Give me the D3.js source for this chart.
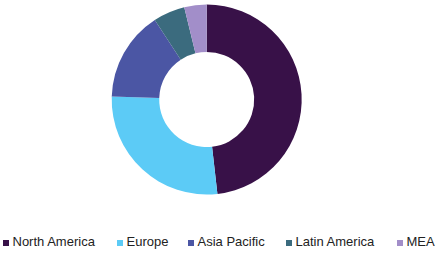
<!DOCTYPE html>
<html>
<head>
<meta charset="utf-8">
<script src="https://cdn.jsdelivr.net/npm/d3@7"></script>
<style>
  body { margin: 0; background: #fff; }
  svg { display: block; font-family: "Liberation Sans", Arial, sans-serif; }
</style>
</head>
<body>
<svg width="441" height="253"></svg>
<script>
const width = 441;
const height = 253;

// regional share (%)
const regions = ["North America", "Europe", "Asia Pacific", "Latin America", "MEA"];
const shares = [48.2, 27.3, 15.3, 5.4, 3.8];
const colors = ["#381148", "#5ccbf6", "#4b56a4", "#3b6b7e", "#a28ec9"];

const svg = d3.select("svg");

const color = d3.scaleOrdinal()
  .domain(regions)
  .range(colors);

const outerRadius = 95;
const innerRadius = 47.5;

const arc = d3.arc()
  .outerRadius(outerRadius)
  .innerRadius(innerRadius);

const pie = d3.pie()
  .sort(null)
  .value(d => d.value);

const data = regions.map((r, i) => ({ label: r, value: shares[i] }));

const g = svg.append("g")
  .attr("transform", "translate(206.7,99.5)");

g.selectAll(".slice")
  .data(pie(data))
  .enter().append("path")
  .attr("class", "slice")
  .attr("d", arc)
  .style("fill", d => color(d.data.label));

// legend
const legendX = [3, 117, 188, 286, 397];
const legend = svg.selectAll(".legend")
  .data(regions)
  .enter().append("g")
  .attr("class", "legend")
  .attr("transform", (d, i) => "translate(" + legendX[i] + ",241)");

legend.append("rect")
  .attr("x", 0)
  .attr("y", -1)
  .attr("width", 6)
  .attr("height", 6)
  .style("fill", d => color(d));

legend.append("text")
  .attr("x", 9.5)
  .attr("y", 5)
  .style("font-size", "13px")
  .style("fill", "#222")
  .text(d => d);
</script>
</body>
</html>
